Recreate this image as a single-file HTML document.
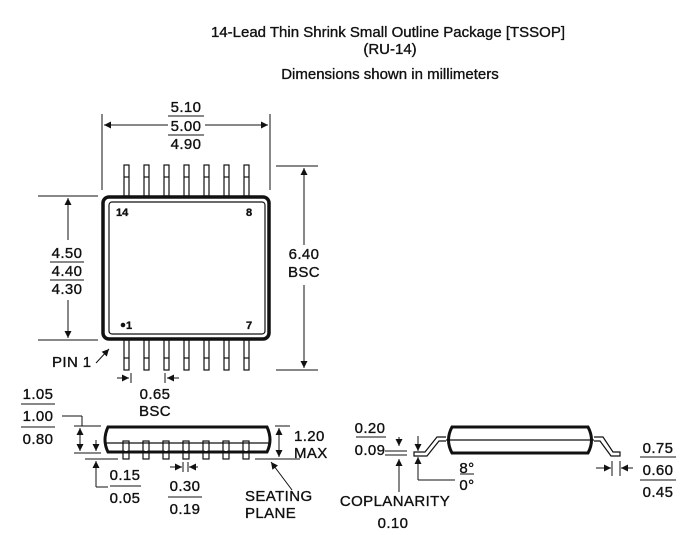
<!DOCTYPE html>
<html><head><style>
html,body{margin:0;padding:0;background:#fff;}
svg{display:block;}
text{font-family:"Liberation Sans",sans-serif;fill:#111;stroke:#111;stroke-width:0.35;}
.t{font-size:15px;}
.d{font-size:15px;letter-spacing:0.4px;}
.s{font-size:11px;font-weight:bold;stroke-width:0;}
</style></head><body>
<svg width="698" height="535" viewBox="0 0 698 535" xmlns="http://www.w3.org/2000/svg">
<defs>
<marker id="a" viewBox="0 0 10 10" refX="10" refY="5" markerWidth="9" markerHeight="7" orient="auto-start-reverse" markerUnits="userSpaceOnUse"><path d="M0,0L10,5L0,10z" fill="#111"/></marker>
</defs>
<g text-anchor="middle" class="t">
<text x="388" y="37">14-Lead Thin Shrink Small Outline Package [TSSOP]</text>
<text x="390" y="54">(RU-14)</text>
<text x="390" y="79">Dimensions shown in millimeters</text>
</g>
<g stroke="#111" fill="none">
<g stroke-width="1.2" fill="#fff">
<rect x="124" y="165" width="5" height="31"/><rect x="144" y="165" width="5" height="31"/><rect x="164" y="165" width="5" height="31"/><rect x="184" y="165" width="5" height="31"/><rect x="204" y="165" width="5" height="31"/><rect x="224" y="165" width="5" height="31"/><rect x="244" y="165" width="5" height="31"/>
<rect x="124" y="340" width="5" height="30"/><rect x="144" y="340" width="5" height="30"/><rect x="164" y="340" width="5" height="30"/><rect x="184" y="340" width="5" height="30"/><rect x="204" y="340" width="5" height="30"/><rect x="224" y="340" width="5" height="30"/><rect x="244" y="340" width="5" height="30"/>
</g>
<g stroke-width="1.2"><line x1="124" y1="177" x2="129" y2="177"/><line x1="144" y1="177" x2="149" y2="177"/><line x1="164" y1="177" x2="169" y2="177"/><line x1="184" y1="177" x2="189" y2="177"/><line x1="204" y1="177" x2="209" y2="177"/><line x1="224" y1="177" x2="229" y2="177"/><line x1="244" y1="177" x2="249" y2="177"/>
<line x1="124" y1="358" x2="129" y2="358"/><line x1="144" y1="358" x2="149" y2="358"/><line x1="164" y1="358" x2="169" y2="358"/><line x1="184" y1="358" x2="189" y2="358"/><line x1="204" y1="358" x2="209" y2="358"/><line x1="224" y1="358" x2="229" y2="358"/><line x1="244" y1="358" x2="249" y2="358"/></g>
<rect x="103" y="197" width="166" height="142" rx="6" stroke-width="3.5" fill="#fff"/>
<rect x="109" y="202" width="156" height="132" rx="3" stroke-width="1.2"/>
<g stroke-width="1">
<line x1="102" y1="114" x2="102" y2="190"/><line x1="270" y1="114" x2="270" y2="190"/>
<line x1="104" y1="125" x2="168" y2="125" marker-start="url(#a)"/><line x1="205" y1="125" x2="268" y2="125" marker-end="url(#a)"/>
<line x1="38" y1="196" x2="98" y2="196"/><line x1="38" y1="340" x2="98" y2="340"/>
<line x1="68" y1="198" x2="68" y2="240" marker-start="url(#a)"/><line x1="68" y1="300" x2="68" y2="338" marker-end="url(#a)"/>
<line x1="276" y1="166" x2="318" y2="166"/><line x1="276" y1="370" x2="318" y2="370"/>
<line x1="304" y1="168" x2="304" y2="245" marker-start="url(#a)"/><line x1="304" y1="285" x2="304" y2="368" marker-end="url(#a)"/>
<line x1="96" y1="363" x2="109" y2="349" marker-end="url(#a)"/>
<line x1="117" y1="378" x2="129" y2="378" marker-end="url(#a)"/><line x1="131" y1="373" x2="131" y2="383"/>
<line x1="179" y1="378" x2="167" y2="378" marker-end="url(#a)"/><line x1="165" y1="373" x2="165" y2="383"/>
<line x1="168" y1="116" x2="204" y2="116"/><line x1="168" y1="135" x2="204" y2="135"/>
<line x1="50" y1="262" x2="84" y2="262"/><line x1="50" y1="280" x2="84" y2="280"/>
</g>
<g stroke-width="1.2" fill="#fff">
<rect x="123" y="441" width="6" height="18"/><rect x="143" y="441" width="6" height="18"/><rect x="163" y="441" width="6" height="18"/><rect x="183" y="441" width="6" height="18"/><rect x="203" y="441" width="6" height="18"/><rect x="223" y="441" width="6" height="18"/><rect x="243" y="441" width="6" height="18"/>
</g>
<path d="M108,427 L267,427 Q273,440 267,452 L108,452 Q102,440 108,427Z" stroke-width="3" fill="none"/>
<line x1="106" y1="443" x2="269" y2="443" stroke-width="1.2"/>
<g stroke="#fff" stroke-width="2.5"><line x1="126" y1="444" x2="126" y2="451"/><line x1="146" y1="444" x2="146" y2="451"/><line x1="166" y1="444" x2="166" y2="451"/><line x1="186" y1="444" x2="186" y2="451"/><line x1="206" y1="444" x2="206" y2="451"/><line x1="226" y1="444" x2="226" y2="451"/><line x1="246" y1="444" x2="246" y2="451"/></g>
<g stroke-width="1">
<line x1="74" y1="426" x2="101" y2="426"/><line x1="74" y1="453" x2="101" y2="453"/>
<line x1="62" y1="416" x2="82" y2="416"/><line x1="82" y1="416" x2="82" y2="426"/>
<line x1="80" y1="428" x2="80" y2="451" marker-start="url(#a)" marker-end="url(#a)"/>
<line x1="96" y1="440" x2="96" y2="451" marker-end="url(#a)"/>
<line x1="85" y1="459" x2="118" y2="459"/>
<line x1="96" y1="487" x2="96" y2="461" marker-end="url(#a)"/><line x1="96" y1="487" x2="108" y2="487"/>
<line x1="170" y1="467" x2="182" y2="467" marker-end="url(#a)"/><line x1="183" y1="462" x2="183" y2="472"/>
<line x1="198" y1="467" x2="189" y2="467" marker-end="url(#a)"/><line x1="188" y1="462" x2="188" y2="472"/>
<line x1="275" y1="426" x2="290" y2="426"/><line x1="255" y1="459" x2="300" y2="459"/>
<line x1="279" y1="428" x2="279" y2="457" marker-start="url(#a)" marker-end="url(#a)"/>
<line x1="292" y1="490" x2="271" y2="462" marker-end="url(#a)"/>
<line x1="21" y1="404" x2="55" y2="404"/><line x1="21" y1="427" x2="55" y2="427"/>
<line x1="110" y1="486" x2="141" y2="486"/><line x1="168" y1="497" x2="202" y2="497"/>
</g>
<path d="M452,427 L588,427 Q595,440 588,453 L452,453 Q445,440 452,427Z" stroke-width="3" fill="none"/>
<line x1="446" y1="440" x2="594" y2="440" stroke-width="1.2"/>
<path d="M446,437 L437,437 L425,452 L414,452 L414,456 L427,456 L439,441 L446,441" stroke-width="1.2"/>
<path d="M594,437 L603,437 L613,452 L620,452 L620,456 L611,456 L600,441 L594,441" stroke-width="1.2"/>
<g stroke-width="1">
<line x1="399" y1="437" x2="399" y2="446" marker-end="url(#a)"/><line x1="399" y1="475" x2="399" y2="459" marker-end="url(#a)"/>
<line x1="385" y1="451" x2="407" y2="451"/><line x1="385" y1="455" x2="407" y2="455"/>
<line x1="399" y1="475" x2="399" y2="492"/>
<line x1="418" y1="436" x2="418" y2="451" marker-end="url(#a)"/><line x1="418" y1="480" x2="418" y2="457" marker-end="url(#a)"/>
<line x1="418" y1="480" x2="455" y2="480"/>
<line x1="596" y1="468" x2="611" y2="468" marker-end="url(#a)"/><line x1="612" y1="461" x2="612" y2="476"/>
<line x1="633" y1="468" x2="621" y2="468" marker-end="url(#a)"/><line x1="620" y1="461" x2="620" y2="476"/>
<line x1="356" y1="437" x2="386" y2="437"/>
<line x1="460" y1="474" x2="474" y2="474"/>
<line x1="640" y1="457" x2="676" y2="457"/><line x1="640" y1="480" x2="676" y2="480"/>
</g>
</g>
<g class="d" text-anchor="middle">
<text x="186" y="112">5.10</text><text x="186" y="131">5.00</text><text x="186" y="149">4.90</text>
<text x="67" y="258">4.50</text><text x="67" y="276">4.40</text><text x="67" y="294">4.30</text>
<text x="304" y="259">6.40</text><text x="304" y="277">BSC</text>
<text x="155" y="399">0.65</text><text x="155" y="416">BSC</text>
<text x="38" y="399">1.05</text><text x="38" y="421">1.00</text><text x="38" y="444">0.80</text>
<text x="125" y="480">0.15</text><text x="125" y="503">0.05</text>
<text x="185" y="491">0.30</text><text x="185" y="514">0.19</text>
<text x="370" y="433">0.20</text><text x="370" y="455">0.09</text>
<text x="395" y="506">COPLANARITY</text><text x="393" y="528">0.10</text>
<text x="467" y="473">8°</text><text x="467" y="490">0°</text>
<text x="658" y="453">0.75</text><text x="658" y="475">0.60</text><text x="658" y="497">0.45</text>
</g>
<g class="d">
<text x="52" y="367">PIN 1</text>
<text x="294" y="441">1.20</text><text x="294" y="458">MAX</text>
<text x="245" y="501">SEATING</text><text x="245" y="518">PLANE</text>
</g>
<g class="s">
<text x="116" y="216">14</text><text x="246" y="216">8</text>
<text x="246" y="329">7</text><text x="126" y="329">1</text>
</g>
<circle cx="123" cy="325" r="2.3" fill="#111"/>
</svg>
</body></html>
